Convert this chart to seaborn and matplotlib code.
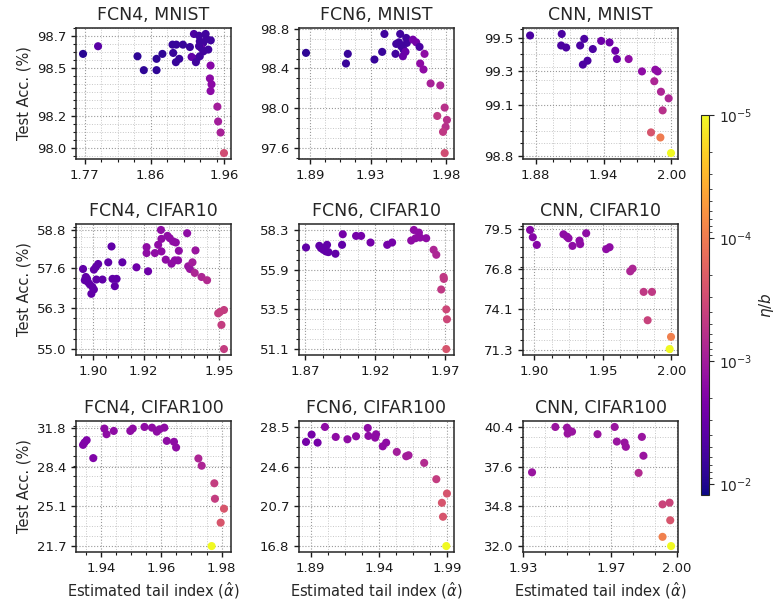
import numpy as np
import matplotlib
matplotlib.use("Agg")
import matplotlib.pyplot as plt
import seaborn as sns
from matplotlib.colors import LogNorm
from matplotlib.ticker import FixedLocator, AutoMinorLocator, FormatStrFormatter

# ---- data ----
# FCN4, MNIST
fcn4_mnist_alpha = [1.7677, 1.7882, 1.842, 1.8506, 1.868, 1.868, 1.876, 1.8898, 1.895, 1.8907,
                    1.8944, 1.899, 1.904, 1.9135, 1.9158, 1.919, 1.9226, 1.9217, 1.927, 1.926,
                    1.927, 1.9317, 1.935, 1.929, 1.932, 1.9386, 1.942, 1.936, 1.926, 1.9417,
                    1.9408, 1.943, 1.9417, 1.951, 1.952, 1.9554, 1.96]
fcn4_mnist_acc = [98.59, 98.638, 98.575, 98.488, 98.488, 98.559, 98.59, 98.648, 98.648, 98.596,
                  98.538, 98.559, 98.648, 98.633, 98.571, 98.715, 98.559, 98.538, 98.575, 98.704,
                  98.669, 98.659, 98.715, 98.627, 98.606, 98.617, 98.675, 98.683, 98.638, 98.517,
                  98.436, 98.399, 98.357, 98.259, 98.166, 98.097, 97.968]
fcn4_mnist_eta = [9e-3, 4e-3, 8e-3, 8e-3, 8e-3, 8e-3, 8e-3, 7e-3, 7e-3, 7e-3,
                  7e-3, 7e-3, 7e-3, 7e-3, 3.5e-3, 5e-3, 3.5e-3, 6e-3, 6e-3, 6e-3,
                  6e-3, 6e-3, 6e-3, 3.5e-3, 6e-3, 6e-3, 6e-3, 6e-3, 6e-3, 1.8e-3,
                  1.6e-3, 1.6e-3, 1.6e-3, 1e-3, 1e-3, 9e-4, 3e-4]

# FCN6, MNIST
fcn6_mnist_alpha = [1.8874, 1.9138, 1.915, 1.9326, 1.9377, 1.9392, 1.9465, 1.947, 1.9488, 1.9496,
                    1.9503, 1.9514, 1.9518, 1.9531, 1.9536, 1.954, 1.958, 1.9602, 1.9624, 1.9657,
                    1.9628, 1.965, 1.9697, 1.9761, 1.979, 1.9741, 1.9805, 1.9796, 1.9779, 1.979]
fcn6_mnist_acc = [98.557, 98.45, 98.547, 98.49, 98.567, 98.747, 98.547, 98.647, 98.663, 98.747,
                  98.623, 98.523, 98.59, 98.567, 98.707, 98.657, 98.69, 98.663, 98.617, 98.547,
                  98.45, 98.39, 98.25, 98.23, 98.007, 97.923, 97.883, 97.813, 97.763, 97.55]
fcn6_mnist_eta = [8e-3, 7e-3, 7e-3, 7e-3, 7e-3, 6e-3, 6e-3, 6e-3, 6e-3, 6e-3,
                  6e-3, 3e-3, 6e-3, 3e-3, 6e-3, 6e-3, 2.5e-3, 2.5e-3, 5e-3, 1.5e-3,
                  1.5e-3, 1.5e-3, 9e-4, 8e-4, 6e-4, 5e-4, 6e-4, 6e-4, 5e-4, 3e-4]

# CNN, MNIST
cnn_mnist_alpha = [1.875, 1.903, 1.9025, 1.9069, 1.9193, 1.9229, 1.9217, 1.9258, 1.9305, 1.9379,
                   1.9453, 1.9504, 1.9518, 1.9622, 1.974, 1.9858, 1.9879, 1.9849, 1.9908, 1.9976,
                   1.9923, 1.982, 1.9903, 1.9997]
cnn_mnist_acc = [99.512, 99.521, 99.453, 99.441, 99.453, 99.492, 99.34, 99.363, 99.432, 99.48,
                 99.471, 99.422, 99.373, 99.373, 99.30, 99.31, 99.30, 99.242, 99.18, 99.141,
                 99.07, 98.94, 98.91, 98.818]
cnn_mnist_eta = [5e-3, 5e-3, 5e-3, 5e-3, 5e-3, 5e-3, 5e-3, 5e-3, 5e-3, 2.8e-3,
                 2.8e-3, 2.8e-3, 2.8e-3, 1.5e-3, 1.5e-3, 1.5e-3, 1.5e-3, 8e-4, 8e-4, 8e-4,
                 6e-4, 2.5e-4, 1e-4, 1e-5]

# FCN4, CIFAR10
fcn4_c10_alpha = [1.896, 1.8971, 1.8967, 1.898, 1.8976, 1.8987, 1.8997, 1.9003, 1.8993, 1.9003,
                  1.9011, 1.902, 1.9013, 1.9037, 1.906, 1.9073, 1.9077, 1.9086, 1.9093, 1.9116,
                  1.9172, 1.9218, 1.9212, 1.9212, 1.9245, 1.9258, 1.9269, 1.9271, 1.9271, 1.9288,
                  1.9295, 1.9304, 1.9311, 1.9317, 1.9328, 1.9324, 1.934, 1.9337, 1.9373, 1.9377,
                  1.9384, 1.9394, 1.9406, 1.9403, 1.943, 1.9452, 1.9496, 1.9503, 1.9519, 1.9509,
                  1.9519]
fcn4_c10_acc = [57.555, 57.30, 57.196, 57.133, 57.24, 57.06, 56.985, 56.90, 56.763, 57.534,
                57.619, 57.714, 57.218, 57.218, 57.767, 58.273, 57.239, 57.006, 57.239, 57.767,
                57.608, 57.481, 58.252, 58.062, 58.062, 58.326, 58.80, 58.516, 58.115, 57.851,
                58.611, 58.537, 57.724, 58.432, 58.40, 57.83, 58.136, 57.83, 58.696, 57.64,
                57.555, 57.767, 58.147, 57.429, 57.30, 57.196, 56.14, 56.183, 56.246, 55.771,
                55.0]
fcn4_c10_eta = [3.5e-3] * 20 + [2.8e-3, 2.8e-3] + [1.5e-3] * 17 + \
               [1.2e-3, 1.2e-3, 1e-3, 1.2e-3, 8e-4, 8e-4, 7e-4] + [4.5e-4] * 5

# FCN6, CIFAR10
fcn6_c10_alpha = [1.8707, 1.8802, 1.8814, 1.8831, 1.885, 1.8857, 1.8867, 1.8917, 1.8964, 1.8969,
                  1.9064, 1.91, 1.9167, 1.9286, 1.9321, 1.9457, 1.9476, 1.9488, 1.9512, 1.9521,
                  1.9564, 1.9617, 1.9636, 1.9688, 1.969, 1.9671, 1.9707, 1.9712, 1.9707]
fcn6_c10_acc = [57.24, 57.34, 57.2, 57.10, 57.0, 57.40, 56.96, 56.86, 57.40, 58.04,
                57.94, 57.94, 57.54, 57.40, 57.54, 57.66, 58.30, 57.80, 58.14, 57.84,
                57.80, 57.10, 56.80, 55.46, 55.34, 54.70, 53.50, 52.90, 51.10]
fcn6_c10_eta = [3.5e-3] * 9 + [2.4e-3] * 6 + [1.5e-3] * 6 + [8e-4, 8e-4] + \
               [5e-4] * 3 + [3.5e-4, 3.5e-4, 2.5e-4]

# CNN, CIFAR10
cnn_c10_alpha = [1.8968, 1.8988, 1.9017, 1.9212, 1.9237, 1.9249, 1.9278, 1.9329, 1.9334, 1.9378,
                 1.9524, 1.9549, 1.97, 1.9717, 1.9798, 1.9859, 1.9827, 1.9998, 1.9988]
cnn_c10_acc = [79.455, 78.96, 78.44, 79.16, 79.0, 78.89, 78.37, 78.73, 78.49, 79.23,
               78.15, 78.28, 76.64, 76.82, 75.24, 75.24, 73.31, 72.18, 71.35]
cnn_c10_eta = [1.8e-3] * 3 + [1.5e-3] * 9 + [8e-4, 8e-4, 5e-4, 5e-4, 4e-4, 9e-5, 1e-5]

# FCN4, CIFAR100
fcn4_c100_alpha = [1.934, 1.9345, 1.9352, 1.9374, 1.9411, 1.9418, 1.9442, 1.9497, 1.9505, 1.9544,
                   1.9569, 1.9585, 1.9594, 1.961, 1.9618, 1.9642, 1.9649, 1.9723, 1.9734, 1.9776,
                   1.9778, 1.9808, 1.9797, 1.9767]
fcn4_c100_acc = [30.33, 30.53, 30.73, 29.20, 31.72, 31.24, 31.52, 31.52, 31.72, 31.86,
                 31.80, 31.46, 31.66, 31.80, 30.67, 30.59, 30.11, 29.17, 28.55, 27.05,
                 25.73, 24.88, 23.69, 21.69]
fcn4_c100_eta = [2e-3] * 4 + [1.5e-3] * 13 + [8e-4, 8e-4, 4.5e-4, 4.5e-4, 2.4e-4, 2.4e-4, 1e-5]

# FCN6, CIFAR100
fcn6_c100_alpha = [1.8866, 1.8907, 1.8951, 1.9005, 1.9084, 1.917, 1.9233, 1.9319, 1.9324, 1.9373,
                   1.938, 1.9429, 1.9454, 1.9532, 1.9601, 1.9618, 1.9733, 1.9822, 1.99, 1.9863,
                   1.9871, 1.9895]
fcn6_c100_acc = [27.03, 27.75, 26.96, 28.50, 27.52, 27.29, 27.58, 28.40, 27.62, 27.45,
                 27.78, 26.60, 26.96, 26.05, 25.62, 25.72, 24.97, 23.37, 21.96, 21.05,
                 19.68, 16.80]
fcn6_c100_eta = [2.4e-3] * 3 + [1.5e-3] * 10 + [1e-3] * 3 + [7e-4, 4.5e-4, 2.5e-4, 2.5e-4, 2.5e-4, 1e-5]

# CNN, CIFAR100
cnn_c100_alpha = [1.9341, 1.9447, 1.95, 1.9503, 1.9512, 1.9523, 1.9639, 1.9717, 1.9727, 1.9762,
                  1.9768, 1.9841, 1.9848, 1.9826, 1.9935, 1.9967, 1.997, 1.9935, 1.9974]
cnn_c100_acc = [37.20, 40.40, 40.35, 39.93, 40.12, 40.07, 39.89, 40.40, 39.37, 39.30,
                39.0, 39.70, 38.37, 37.16, 34.94, 35.06, 33.82, 32.65, 32.0]
cnn_c100_eta = [1.2e-3] * 13 + [7e-4, 3.8e-4, 3.8e-4, 2.5e-4, 9e-5, 1e-5]

titles = ["FCN4, MNIST", "FCN6, MNIST", "CNN, MNIST",
          "FCN4, CIFAR10", "FCN6, CIFAR10", "CNN, CIFAR10",
          "FCN4, CIFAR100", "FCN6, CIFAR100", "CNN, CIFAR100"]

xtick_vals = [[1.77, 1.86, 1.96], [1.89, 1.93, 1.98], [1.88, 1.94, 2.00],
              [1.90, 1.92, 1.95], [1.87, 1.92, 1.97], [1.90, 1.95, 2.00],
              [1.94, 1.96, 1.98], [1.89, 1.94, 1.99], [1.93, 1.97, 2.00]]
ytick_vals = [[98.0, 98.2, 98.5, 98.7], [97.6, 98.0, 98.4, 98.8], [98.8, 99.1, 99.3, 99.5],
              [55.0, 56.3, 57.6, 58.8], [51.1, 53.5, 55.9, 58.3], [71.3, 74.1, 76.8, 79.5],
              [21.7, 25.1, 28.4, 31.8], [16.8, 20.7, 24.6, 28.5], [32.0, 34.8, 37.6, 40.4]]

panels = [
    (fcn4_mnist_alpha, fcn4_mnist_acc, fcn4_mnist_eta),
    (fcn6_mnist_alpha, fcn6_mnist_acc, fcn6_mnist_eta),
    (cnn_mnist_alpha, cnn_mnist_acc, cnn_mnist_eta),
    (fcn4_c10_alpha, fcn4_c10_acc, fcn4_c10_eta),
    (fcn6_c10_alpha, fcn6_c10_acc, fcn6_c10_eta),
    (cnn_c10_alpha, cnn_c10_acc, cnn_c10_eta),
    (fcn4_c100_alpha, fcn4_c100_acc, fcn4_c100_eta),
    (fcn6_c100_alpha, fcn6_c100_acc, fcn6_c100_eta),
    (cnn_c100_alpha, cnn_c100_acc, cnn_c100_eta),
]

sns.set_style("ticks")
plt.rcParams["font.family"] = ["DejaVu Sans"]

fig = plt.figure(figsize=(7.81, 6.01), dpi=100)
norm = LogNorm(vmin=1e-5, vmax=1.23e-2)
cmap = "plasma_r"

lefts = [0.0973, 0.3828, 0.6697]
bottoms = [0.7354, 0.4093, 0.0815]
w, h = 0.1985, 0.218

for i, (alpha, acc, eta) in enumerate(panels):
    row, col = divmod(i, 3)
    ax = fig.add_axes([lefts[col], bottoms[row], w, h])
    sns.scatterplot(x=alpha, y=acc, hue=eta, hue_norm=norm, palette=cmap,
                    s=34, linewidth=0, legend=False, ax=ax, zorder=3)

    # keep the end ticks inside the view (the reference shows them at the spines)
    x0, x1 = ax.get_xlim()
    ax.set_xlim(min(x0, xtick_vals[i][0]), max(x1, xtick_vals[i][-1]))

    ax.xaxis.set_major_locator(FixedLocator(xtick_vals[i]))
    ax.yaxis.set_major_locator(FixedLocator(ytick_vals[i]))
    ax.xaxis.set_major_formatter(FormatStrFormatter("%.2f"))
    ax.yaxis.set_major_formatter(FormatStrFormatter("%.1f"))
    ax.xaxis.set_minor_locator(AutoMinorLocator(4))
    ax.yaxis.set_minor_locator(AutoMinorLocator(4))

    ax.grid(which="major", ls=":", lw=0.8, color="0.6")
    ax.grid(which="minor", ls=":", lw=0.7, color="0.78")
    ax.set_axisbelow(True)
    ax.tick_params(which="major", length=3.5, width=1, labelsize=9.5, colors="0.1")
    ax.tick_params(which="minor", length=2, width=0.8, colors="0.1")
    for sp in ax.spines.values():
        sp.set_color("0.15")
        sp.set_linewidth(1.1)

    ax.set_title(titles[i], fontsize=12.5, pad=6)
    if col == 0:
        ax.set_ylabel("Test Acc. (%)", fontsize=10.5)
    else:
        ax.set_ylabel("")
    if row == 2:
        ax.set_xlabel(r"Estimated tail index ($\hat{\alpha}$)", fontsize=10.5)
    else:
        ax.set_xlabel("")

# colorbar for eta/b
cax = fig.add_axes([0.8976, 0.1764, 0.0105, 0.6323])
sm = plt.cm.ScalarMappable(norm=norm, cmap=cmap)
cbar = fig.colorbar(sm, cax=cax)
cbar.ax.invert_yaxis()
cbar.ax.tick_params(labelsize=10)
cbar.set_label(r"$\eta/b$", fontsize=11, labelpad=3)

fig.savefig("out.png", dpi=100)
